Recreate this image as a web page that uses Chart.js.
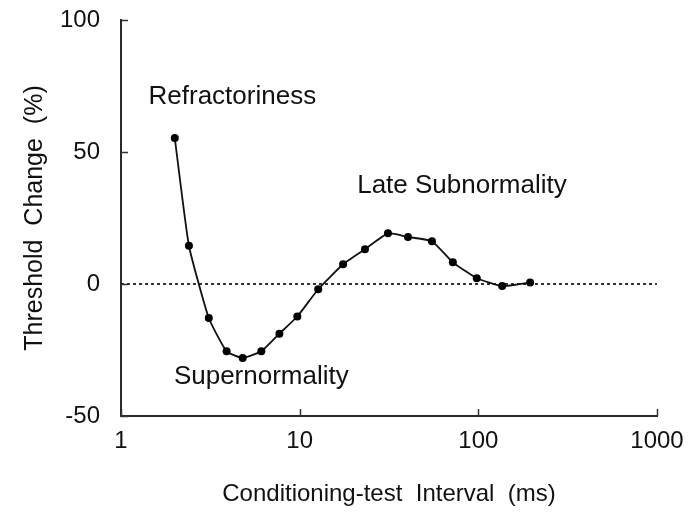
<!DOCTYPE html>
<html>
<head>
<meta charset="utf-8">
<script src="https://cdn.jsdelivr.net/npm/chart.js@4.4.1/dist/chart.umd.min.js"></script>
<style>
  html, body { margin: 0; padding: 0; background: #fff; }
  #wrap { width: 690px; height: 521px; }
</style>
</head>
<body>
<div id="wrap"><canvas id="recoveryChart"></canvas></div>
<script>
// Recovery cycle: threshold change vs conditioning-test interval
const intervals = [2.0, 2.4, 3.1, 3.9, 4.8, 6.1, 7.7, 9.7, 12.7, 17.5, 23.2, 31.2, 40.4, 55, 72, 98, 136, 195];
const thresholdChange = [55.3, 14.5, -12.9, -25.5, -28, -25.5, -18.8, -12.3, -2, 7.5, 13.2, 19.2, 17.8, 16.2, 8.2, 2.2, -0.8, 0.6];

const baselineX = [1, 1000];
const baselineY = [0, 0];

const xTicks = [1, 10, 100, 1000];
const yTicks = [-50, 0, 50, 100];

const phaseLabels = ['Refractoriness', 'Late Subnormality', 'Supernormality'];
const phaseLabelX = [4.2, 81, 6.1];
const phaseLabelY = [71, 37, -35.3];

const FONT = '"Liberation Sans", Arial, sans-serif';
const INK = '#111';

// inward tick marks + phase text
const decorPlugin = {
    id: 'decor',
    afterDraw(chart) {
        const ctx = chart.ctx;
        const xs = chart.scales.x;
        const ys = chart.scales.y;
        ctx.save();
        ctx.strokeStyle = '#333';
        ctx.lineWidth = 1.5;
        xTicks.forEach(v => {
            const px = Math.round(xs.getPixelForValue(v)) + 0.5;
            ctx.beginPath();
            ctx.moveTo(px, ys.bottom);
            ctx.lineTo(px, ys.bottom - 7);
            ctx.stroke();
        });
        yTicks.forEach(v => {
            const py = Math.round(ys.getPixelForValue(v)) + 0.5;
            ctx.beginPath();
            ctx.moveTo(xs.left, py);
            ctx.lineTo(xs.left + 7, py);
            ctx.stroke();
        });
        ctx.fillStyle = INK;
        ctx.font = '26px ' + FONT;
        ctx.textAlign = 'center';
        ctx.textBaseline = 'middle';
        phaseLabels.forEach((t, i) => {
            ctx.fillText(t, xs.getPixelForValue(phaseLabelX[i]), ys.getPixelForValue(phaseLabelY[i]));
        });
        ctx.restore();
    }
};

new Chart(document.getElementById('recoveryChart').getContext('2d'), {
    type: 'scatter',
    data: {
        datasets: [{
            label: 'Threshold change',
            data: intervals.map((x, i) => ({ x: x, y: thresholdChange[i] })),
            showLine: true,
            tension: 0.15,
            borderColor: '#111',
            borderWidth: 1.8,
            pointRadius: 4,
            pointBackgroundColor: '#000',
            pointBorderColor: '#000',
            pointBorderWidth: 0
        }, {
            label: 'Baseline',
            data: baselineX.map((x, i) => ({ x: x, y: baselineY[i] })),
            showLine: true,
            borderColor: '#000',
            borderWidth: 1.6,
            borderDash: [3, 3],
            pointRadius: 0
        }]
    },
    options: {
        responsive: true,
        maintainAspectRatio: false,
        animation: false,
        layout: { padding: 0 },
        scales: {
            x: {
                type: 'logarithmic',
                min: 1,
                max: 1000,
                afterBuildTicks: axis => { axis.ticks = xTicks.map(v => ({ value: v })); },
                afterFit: axis => {
                    axis.height = 105;
                    axis.paddingRight = 33;
                    axis.paddingLeft = 0;
                },
                ticks: {
                    color: INK,
                    font: { family: FONT, size: 24 },
                    padding: 11,
                    maxRotation: 0,
                    callback: v => String(v)
                },
                grid: { display: true, drawOnChartArea: false, drawTicks: false },
                border: { display: true, color: '#2a2a2a', width: 2 },
                title: {
                    display: true,
                    text: 'Conditioning-test  Interval  (ms)',
                    color: INK,
                    font: { family: FONT, size: 24 },
                    padding: { top: 0, bottom: 12 }
                }
            },
            y: {
                min: -50,
                max: 100,
                afterBuildTicks: axis => { axis.ticks = yTicks.map(v => ({ value: v })); },
                afterFit: axis => {
                    axis.width = 121;
                    axis.paddingTop = 20;
                    axis.paddingBottom = 0;
                },
                ticks: {
                    color: INK,
                    font: { family: FONT, size: 24 },
                    padding: 21
                },
                grid: { display: true, drawOnChartArea: false, drawTicks: false },
                border: { display: true, color: '#2a2a2a', width: 2 },
                title: {
                    display: true,
                    text: 'Threshold  Change  (%)',
                    color: INK,
                    font: { family: FONT, size: 25 },
                    padding: { top: 20, bottom: 0 }
                }
            }
        },
        plugins: {
            legend: { display: false },
            tooltip: { enabled: false }
        }
    },
    plugins: [decorPlugin]
});
</script>
</body>
</html>
